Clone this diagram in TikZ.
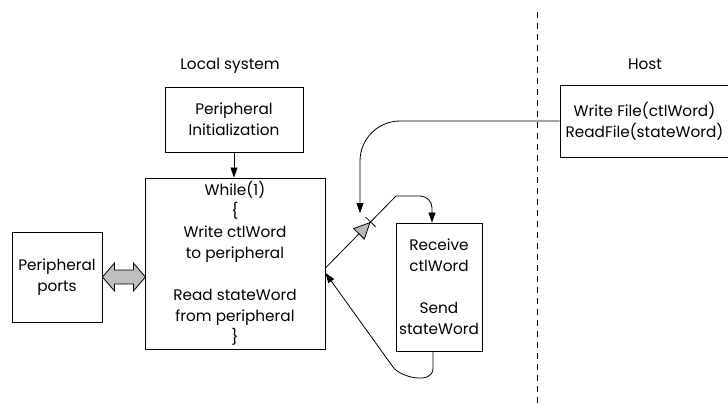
\documentclass[tikz,border=0pt]{standalone}
\usepackage{fontspec}
\setmainfont{Poppins}
\usetikzlibrary{arrows.meta,calc,decorations.markings}
\begin{document}
\begin{tikzpicture}[x=1pt,y=-1pt,
  txt/.style={font=\fontsize{15.3}{21}\selectfont},
  box/.style={txt,draw,line width=0.9pt,align=center,inner sep=0pt},
  conn/.style={line width=0.8pt,-{Triangle[length=10pt,width=7pt]}},
]
\clip (0,0) rectangle (728,410);
% labels
\node[txt] (local) at (230,66) {Local system};
\node[txt] (hostlbl) at (645,64) {Host};
% boxes
\node[box,minimum width=138,minimum height=65] (init) at (234,119.5) {Peripheral\\Initialization};
\node[box,minimum width=180,minimum height=171] (while) at (235,263.5)
  {While(1)\\\{\\Write ctlWord\\to peripheral\\[21pt]Read stateWord\\from peripheral\\\}};
\node[box,minimum width=90,minimum height=90] (ports) at (57,277) {Peripheral\\ports};
\node[box,minimum width=86,minimum height=128] (recv) at (439,287) {Receive\\ctlWord\\[21pt]Send\\stateWord};
\node[box,minimum width=169,minimum height=72] (host) at (644.5,121) {Write File(ctlWord)\\ReadFile(stateWord)};
% separator
\coordinate (dtop) at (537,12);
\coordinate (dbot) at (537,405);
\draw[line width=0.8pt,dash pattern=on 6pt off 5pt] (dtop) -- (dbot);
% init -> while
\draw[conn] (init.south) -- (init.south |- while.north);
% double arrow ports <-> while
\draw[line width=0.8pt,fill=gray!50] (ports.east) -- ++(12,-14) -- ++(0,7) -- ++(19,0) -- ++(0,-7)
  -- ++(12,14) -- ++(-12,14) -- ++(0,-7) -- ++(-19,0) -- ++(0,7) -- cycle;
% host -> local
\coordinate (htip) at (360,213);
\draw[conn,rounded corners=40] (host.west) -| (htip);
% while -> receive
\coordinate (dstart) at ($(while.east)+(0,4.5)$);
\coordinate (dbend) at (396,196);
\coordinate (rtop) at ($(recv.north)+(-7,0)$);
\draw[line width=0.8pt,decoration={markings,
    mark=at position 0.64 with {\arrow{Triangle[length=17pt,width=16pt,fill=gray!55]}
      \draw[line width=0.8pt] (0,-7) -- (0,7);}},
  postaction={decorate}] (dstart) -- (dbend);
\draw[conn,rounded corners=12] (dbend) -- (dbend -| rtop) -- (rtop);
% receive -> while
\coordinate (rb) at ($(recv.south)+(-6,0)$);
\coordinate (wtip) at ($(while.east)+(0,9.5)$);
\draw[conn] (rb) -- ($(rb)+(0,17)$) .. controls ($(rb)+(0,33)$) and (401,378) .. (393,367) -- (wtip);
\end{tikzpicture}
\end{document}
